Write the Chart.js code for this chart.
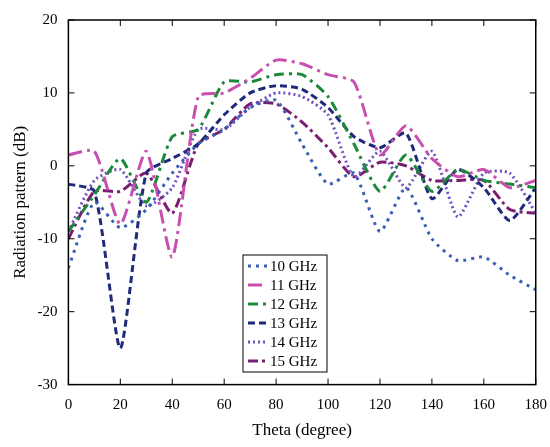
<!DOCTYPE html>
<html><head><meta charset="utf-8">
<script src="https://cdn.jsdelivr.net/npm/chart.js@4"></script>
<style>body{margin:0;background:#fff}#wrap{width:550px;height:447px}</style>
</head><body><div id="wrap"><canvas id="c"></canvas></div>
<script>
const theta = [0,10,20,30,40,50,60,70,80,90,100,110,120,130,140,150,160,170,180];
const g10 = [-14,-5,-8.5,-6,-1,3,5,8,9,3,-2.5,-1,-9,-3,-10,-13,-12.5,-15,-17];
const g11 = [1.5,2,-8,2,-12.5,9.5,10,12,14.5,14,12.5,11.5,1.5,5.5,1,-1.5,-0.5,-3,-2];
const g12 = [-9,-4,1,-5,4,5,11.5,11.5,12.5,12.5,9.5,3,-3.5,1.5,-3.5,-0.5,-2,-2.5,-3];
const g13 = [-2.5,-3.5,-25,-1,1,3,7,10,11,10.5,8,4,2.5,4.5,-4.5,-0.5,-3,-7.5,-3];
const g14 = [-9,-2,-0.5,-5.5,-3,5,5,8,10,9.5,7,-1.5,2,-3,2,-7,-1,-1,-6.5];
const g15 = [-10,-3.5,-3.5,-1,-6.5,3,5,8.5,8.5,6,2.5,-1.5,0.5,0,-2,-2,-2,-6,-6.5];
const labels = ['10 GHz','11 GHz','12 GHz','13 GHz','14 GHz','15 GHz'];
const font = 'Liberation Serif';

function ds(label, data, color, dash){
  return {label, data: data.map((v,i)=>({x:theta[i],y:v})), borderColor:color, borderDash:dash,
    borderWidth:3, pointRadius:0, tension:0.2, fill:false};
}
const inward = {
  id:'inward',
  afterDraw(ch){
    const {ctx, chartArea:a, scales:{x,y}} = ch;
    ctx.save(); ctx.strokeStyle='#000'; ctx.lineWidth=1.5;
    ctx.strokeRect(a.left,a.top,a.right-a.left,a.bottom-a.top);
    ctx.lineWidth=1;
    x.ticks.forEach(t=>{const p=x.getPixelForValue(t.value);
      ctx.beginPath();ctx.moveTo(p,a.bottom);ctx.lineTo(p,a.bottom-6);ctx.moveTo(p,a.top);ctx.lineTo(p,a.top+6);ctx.stroke();});
    y.ticks.forEach(t=>{const p=y.getPixelForValue(t.value);
      ctx.beginPath();ctx.moveTo(a.left,p);ctx.lineTo(a.left+6,p);ctx.moveTo(a.right,p);ctx.lineTo(a.right-6,p);ctx.stroke();});
    // legend
    const lx=243, ly=255, w=84, h=117;
    ctx.fillStyle='#fff'; ctx.fillRect(lx,ly,w,h); ctx.strokeRect(lx,ly,w,h);
    ctx.font='15px "'+font+'"'; ctx.textBaseline='middle';
    ch.data.datasets.forEach((d,i)=>{
      const yy=ly+11+i*19;
      ctx.strokeStyle=d.borderColor; ctx.lineWidth=3; ctx.setLineDash(d.borderDash);
      ctx.beginPath(); ctx.moveTo(lx+5,yy); ctx.lineTo(lx+24,yy); ctx.stroke();
      ctx.setLineDash([]); ctx.fillStyle='#000'; ctx.fillText(d.label,lx+27,yy+1);
    });
    ctx.restore();
  }
};
new Chart(document.getElementById('c'), {
  type:'line',
  data:{datasets:[
    ds(labels[0],g10,'#3a5fb5',[3,5]),
    ds(labels[1],g11,'#c84fb0',[14,5,3,5]),
    ds(labels[2],g12,'#1a8a3a',[10,5,3,5]),
    ds(labels[3],g13,'#1f2a7a',[7,4]),
    ds(labels[4],g14,'#7050c0',[2,3]),
    ds(labels[5],g15,'#7a1f70',[10,4,3,4])
  ]},
  options:{
    responsive:true, maintainAspectRatio:false, animation:false,
    layout:{padding:{top:20,right:12,left:6,bottom:2}},
    plugins:{legend:{display:false}, tooltip:{enabled:false}},
    scales:{
      x:{type:'linear', min:0, max:180, grid:{display:false}, border:{display:false},
        ticks:{stepSize:20, color:'#000', font:{family:font,size:15}},
        title:{display:true,text:'Theta (degree)',color:'#000',font:{family:font,size:17}}},
      y:{min:-30, max:20, grid:{display:false}, border:{display:false},
        ticks:{stepSize:10, color:'#000', font:{family:font,size:15}},
        title:{display:true,text:'Radiation pattern (dB)',color:'#000',font:{family:font,size:17}}}
    }
  },
  plugins:[inward]
});
</script></body></html>
